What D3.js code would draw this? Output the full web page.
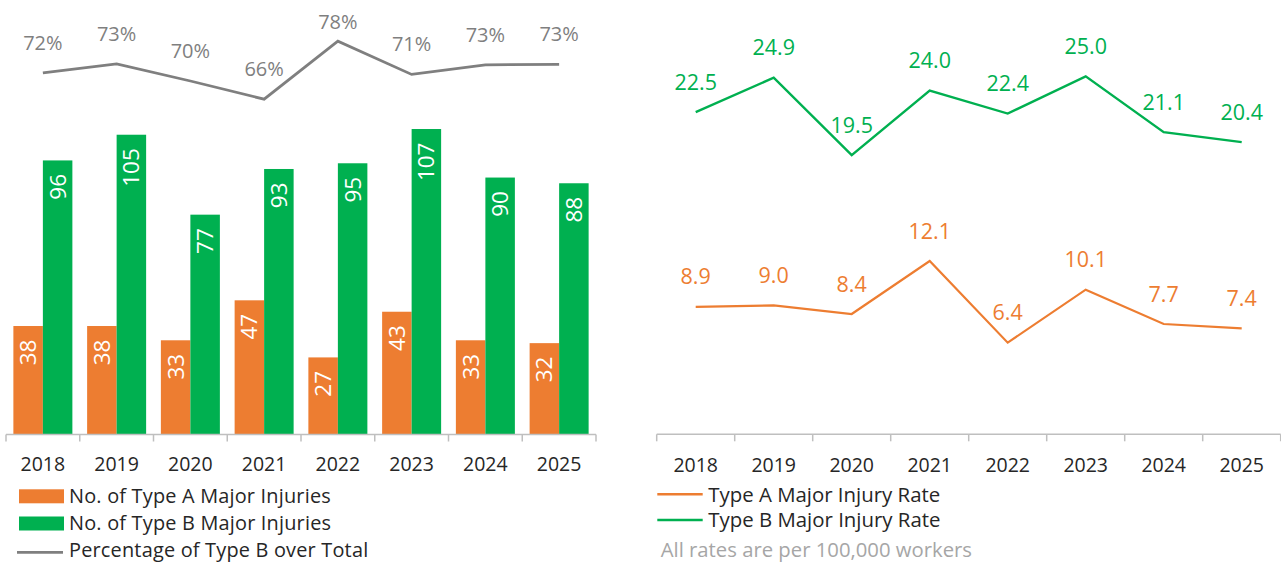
<!DOCTYPE html>
<html>
<head>
<meta charset="utf-8">
<script src="https://cdn.jsdelivr.net/npm/d3@7"></script>
<style>
  html, body { margin: 0; padding: 0; background: #fff; }
  svg { display: block; font-family: "Open Sans", "Liberation Sans", sans-serif; }
</style>
</head>
<body>
<svg id="chart" width="1281" height="562"></svg>
<script>
// ---------- data ----------
const years = ["2018", "2019", "2020", "2021", "2022", "2023", "2024", "2025"];
const typeACount = [38, 38, 33, 47, 27, 43, 33, 32];
const typeBCount = [96, 105, 77, 93, 95, 107, 90, 88];
const pctTypeB = [71.6, 73.4, 70.0, 66.4, 77.9, 71.3, 73.2, 73.3];
const rateA = [8.9, 9.0, 8.4, 12.1, 6.4, 10.1, 7.7, 7.4];
const rateB = [22.5, 24.9, 19.5, 24.0, 22.4, 25.0, 21.1, 20.4];
const leftLegend = ["No. of Type A Major Injuries", "No. of Type B Major Injuries", "Percentage of Type B over Total"];
const rightLegend = ["Type A Major Injury Rate", "Type B Major Injury Rate"];
const footnote = "All rates are per 100,000 workers";

// ---------- styles ----------
const ORANGE = "#ED7D31", GREEN = "#00B050", GRAY = "#7F7F7F", AXIS = "#BFBFBF", TEXT = "#262626";

const svg = d3.select("#chart");

// ================= LEFT PANEL =================
const L = { x0: 6, x1: 596, base: 434.5 };
const xLOuter = d3.scaleBand().domain(years).range([L.x0, L.x1]);
const xL = d3.scaleBand().domain(years).range([L.x0, L.x1]).paddingInner(0.2).paddingOuter(0.1);
const xSub = d3.scaleBand().domain(["A", "B"]).range([0, xL.bandwidth()]);
const yL = d3.scaleLinear().domain([0, 150]).range([L.base, L.base - 150 * 2.855]);
const yPct = d3.scaleLinear().domain([0, 100]).range([L.base, L.base - 505]);

const barData = years.map((y, i) => ({ year: y, A: typeACount[i], B: typeBCount[i] }));
const gBars = svg.append("g");
const groups = gBars.selectAll("g").data(barData).join("g")
  .attr("transform", d => `translate(${xL(d.year)},0)`);
const sub = [{ k: "A", c: ORANGE }, { k: "B", c: GREEN }];
groups.selectAll("rect").data(d => sub.map(s => ({ k: s.k, c: s.c, v: d[s.k] }))).join("rect")
  .attr("x", d => xSub(d.k))
  .attr("width", xSub.bandwidth())
  .attr("y", d => yL(d.v))
  .attr("height", d => yL(0) - yL(d.v))
  .attr("fill", d => d.c);
const barFs = 22.5;
groups.selectAll("text").data(d => sub.map(s => ({ k: s.k, v: d[s.k] }))).join("text")
  .attr("transform", d => `translate(${xSub(d.k) + xSub.bandwidth() / 2 + barFs * 0.357},${yL(d.v) + 13.5}) rotate(-90)`)
  .attr("text-anchor", "end")
  .attr("fill", "#fff")
  .attr("font-size", barFs)
  .text(d => d.v);

// axis
svg.append("line").attr("x1", L.x0).attr("x2", L.x1).attr("y1", L.base).attr("y2", L.base)
  .attr("stroke", AXIS).attr("stroke-width", 1.5);
const edgesL = years.map(y => xLOuter(y)).concat([L.x1]);
svg.selectAll(".tickL").data(edgesL).join("line").attr("class", "tickL")
  .attr("x1", d => d).attr("x2", d => d).attr("y1", L.base).attr("y2", L.base + 7)
  .attr("stroke", AXIS).attr("stroke-width", 1.5);
svg.selectAll(".yrL").data(years).join("text").attr("class", "yrL")
  .attr("x", d => xLOuter(d) + xLOuter.bandwidth() / 2).attr("y", 470.7)
  .attr("text-anchor", "middle").attr("font-size", 19.5).attr("fill", TEXT).text(d => d);

// percentage line
const pctPts = years.map((y, i) => [xL(y) + xL.bandwidth() / 2, yPct(pctTypeB[i])]);
svg.append("path").attr("d", d3.line()(pctPts)).attr("fill", "none")
  .attr("stroke", GRAY).attr("stroke-width", 2.8).attr("stroke-linejoin", "miter");
svg.selectAll(".pctLbl").data(years).join("text").attr("class", "pctLbl")
  .attr("x", (d, i) => pctPts[i][0]).attr("y", (d, i) => Math.max(pctPts[i][1] - 23, 28.5))
  .attr("text-anchor", "middle").attr("font-size", 20).attr("fill", GRAY)
  .text((d, i) => d3.format(".0f")(pctTypeB[i]) + "%");

// left legend
const legL = svg.append("g");
const legRowsY = [495.8, 523, 550.3];
leftLegend.forEach((t, i) => {
  if (i < 2) {
    legL.append("rect").attr("x", 19).attr("y", legRowsY[i] - 6.5).attr("width", 45).attr("height", 14)
      .attr("fill", i === 0 ? ORANGE : GREEN);
  } else {
    legL.append("line").attr("x1", 17).attr("x2", 63).attr("y1", legRowsY[i] + 2).attr("y2", legRowsY[i] + 2)
      .attr("stroke", GRAY).attr("stroke-width", 2.8);
  }
  legL.append("text").attr("x", 69).attr("y", legRowsY[i] + 6.7).attr("font-size", 19.9)
    .attr("letter-spacing", 0.2).attr("fill", TEXT).text(t);
});

// ================= RIGHT PANEL =================
const R = { x0: 656.7, x1: 1280.7, base: 434.3 };
const xR = d3.scaleBand().domain(years).range([R.x0, R.x1]);
const yR = d3.scaleLinear().domain([0, 30]).range([R.base, R.base - 30 * 14.32]);

svg.append("line").attr("x1", R.x0).attr("x2", R.x1).attr("y1", R.base).attr("y2", R.base)
  .attr("stroke", AXIS).attr("stroke-width", 1.5);
const edgesR = years.map(y => xR(y)).concat([R.x1]);
svg.selectAll(".tickR").data(edgesR).join("line").attr("class", "tickR")
  .attr("x1", d => d).attr("x2", d => d).attr("y1", R.base).attr("y2", R.base + 7)
  .attr("stroke", AXIS).attr("stroke-width", 1.5);
svg.selectAll(".yrR").data(years).join("text").attr("class", "yrR")
  .attr("x", d => xR(d) + xR.bandwidth() / 2).attr("y", 472.3)
  .attr("text-anchor", "middle").attr("font-size", 19.5).attr("fill", TEXT).text(d => d);

const series = [{ vals: rateA, c: ORANGE, w: 2.2 }, { vals: rateB, c: GREEN, w: 2.4 }];
series.forEach(s => {
  const pts = years.map((y, i) => [xR(y) + xR.bandwidth() / 2, yR(s.vals[i])]);
  svg.append("path").attr("d", d3.line()(pts)).attr("fill", "none")
    .attr("stroke", s.c).attr("stroke-width", s.w);
  svg.append("g").selectAll("text").data(s.vals).join("text")
    .attr("x", (d, i) => pts[i][0]).attr("y", (d, i) => pts[i][1] - 22.5)
    .attr("text-anchor", "middle").attr("font-size", 21.5).attr("fill", s.c)
    .text(d => d3.format(".1f")(d));
});

// right legend
const legRY = [494.3, 520];
rightLegend.forEach((t, i) => {
  svg.append("line").attr("x1", 657.3).attr("x2", 702.7).attr("y1", legRY[i]).attr("y2", legRY[i])
    .attr("stroke", i === 0 ? ORANGE : GREEN).attr("stroke-width", 2.4);
  svg.append("text").attr("x", 708.3).attr("y", legRY[i] + 7.3).attr("font-size", 20.4)
    .attr("fill", TEXT).text(t);
});
svg.append("text").attr("x", 660.7).attr("y", 557).attr("font-size", 20.3)
  .attr("fill", "#A6A6A6").text(footnote);
</script>
</body>
</html>
